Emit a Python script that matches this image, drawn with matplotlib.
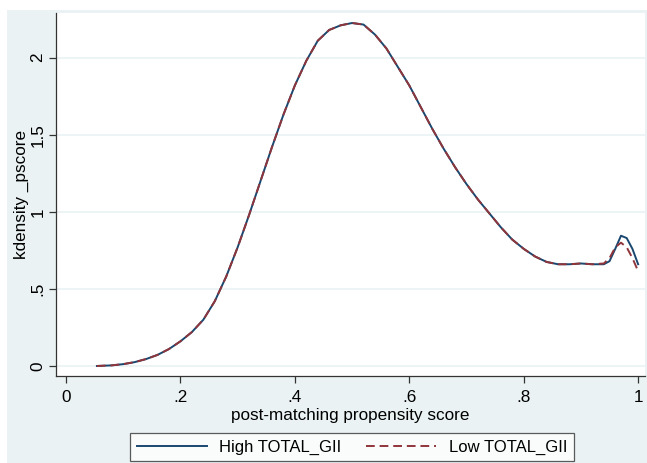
import matplotlib
matplotlib.use("Agg")
import matplotlib.pyplot as plt
from matplotlib.patches import Rectangle

plt.rcParams["font.family"] = ["Liberation Sans", "DejaVu Sans"]

# kernel density of the propensity score
x = [0.054, 0.08, 0.10, 0.12, 0.14, 0.16, 0.18, 0.20, 0.22, 0.24, 0.26, 0.28,
     0.30, 0.32, 0.34, 0.36, 0.38, 0.40, 0.42, 0.44, 0.46, 0.48, 0.50, 0.52,
     0.54, 0.56, 0.58, 0.60, 0.62, 0.64, 0.66, 0.68, 0.70, 0.72, 0.74, 0.76,
     0.78, 0.80, 0.82, 0.84, 0.86, 0.88, 0.90, 0.92, 0.94, 0.95, 0.96, 0.97,
     0.98, 0.99, 1.00]
high = [0.0, 0.004, 0.012, 0.025, 0.045, 0.072, 0.11, 0.16, 0.22, 0.30, 0.42, 0.58,
        0.77, 0.98, 1.20, 1.42, 1.63, 1.82, 1.98, 2.11, 2.18, 2.21, 2.225, 2.215,
        2.15, 2.06, 1.94, 1.82, 1.68, 1.54, 1.41, 1.29, 1.18, 1.08, 0.99, 0.90,
        0.82, 0.76, 0.71, 0.675, 0.66, 0.66, 0.665, 0.66, 0.66, 0.68, 0.76, 0.845,
        0.83, 0.76, 0.66]
low = [0.0, 0.004, 0.012, 0.025, 0.045, 0.072, 0.11, 0.16, 0.22, 0.30, 0.42, 0.58,
       0.77, 0.98, 1.20, 1.42, 1.63, 1.82, 1.98, 2.11, 2.18, 2.21, 2.225, 2.215,
       2.15, 2.06, 1.94, 1.82, 1.68, 1.54, 1.41, 1.29, 1.18, 1.08, 0.99, 0.90,
       0.82, 0.76, 0.71, 0.675, 0.66, 0.66, 0.665, 0.66, 0.665, 0.70, 0.77, 0.80,
       0.77, 0.70, 0.615]

xticks = [0, 0.2, 0.4, 0.6, 0.8, 1.0]
xticklabels = ["0", ".2", ".4", ".6", ".8", "1"]
yticks = [0, 0.5, 1, 1.5, 2]
yticklabels = ["0", ".5", "1", "1.5", "2"]

bg = "#eaf2f3"
fs = 12.3
fig = plt.figure(figsize=(6.47, 4.63), dpi=100)
fig.patches.append(Rectangle((7 / 647, 0), 1, 1 - 10 / 463, transform=fig.transFigure,
                             facecolor=bg, edgecolor="none", zorder=-1))

ax = fig.add_axes([56 / 647, 1 - 376 / 463, 589 / 647, 363 / 463])
ax.set_facecolor("white")

ax.plot(x, high, color="#1a476f", lw=1.4, label="High TOTAL_GII")
ax.plot(x, low, color="#90353b", lw=1.4, ls=(0, (4.5, 2.5)), label="Low TOTAL_GII")

ax.set_xlim(-0.0175, 1.012)
ax.set_ylim(-0.065, 2.29)
ax.set_xticks(xticks, xticklabels)
ax.set_yticks(yticks, yticklabels)
ax.tick_params(axis="both", labelsize=fs, length=5, width=0.9, color="#333333", direction="out")
ax.tick_params(axis="x", pad=5)
ax.tick_params(axis="y", labelrotation=90, pad=2.5)
for lab in ax.get_yticklabels():
    lab.set_va("center")
ax.grid(axis="y", color=bg, lw=1.2)
ax.set_axisbelow(True)

for s in ["top", "right"]:
    ax.spines[s].set_visible(False)
for s in ["left", "bottom"]:
    ax.spines[s].set_color("#333333")
    ax.spines[s].set_linewidth(0.9)

ax.set_xlabel("post-matching propensity score", fontsize=fs, labelpad=2)
ax.set_ylabel("kdensity _pscore", fontsize=fs, labelpad=1)

leg = fig.legend(loc="upper center", bbox_to_anchor=(352 / 647, 1 - 433 / 463), ncol=2,
                 fontsize=12, frameon=True, fancybox=False, handlelength=4.2,
                 handletextpad=0.75, columnspacing=1.5, borderpad=0.4,
                 borderaxespad=0)
leg.get_frame().set_edgecolor("#333333")
leg.get_frame().set_linewidth(0.9)

fig.savefig("out.png", dpi=100)
